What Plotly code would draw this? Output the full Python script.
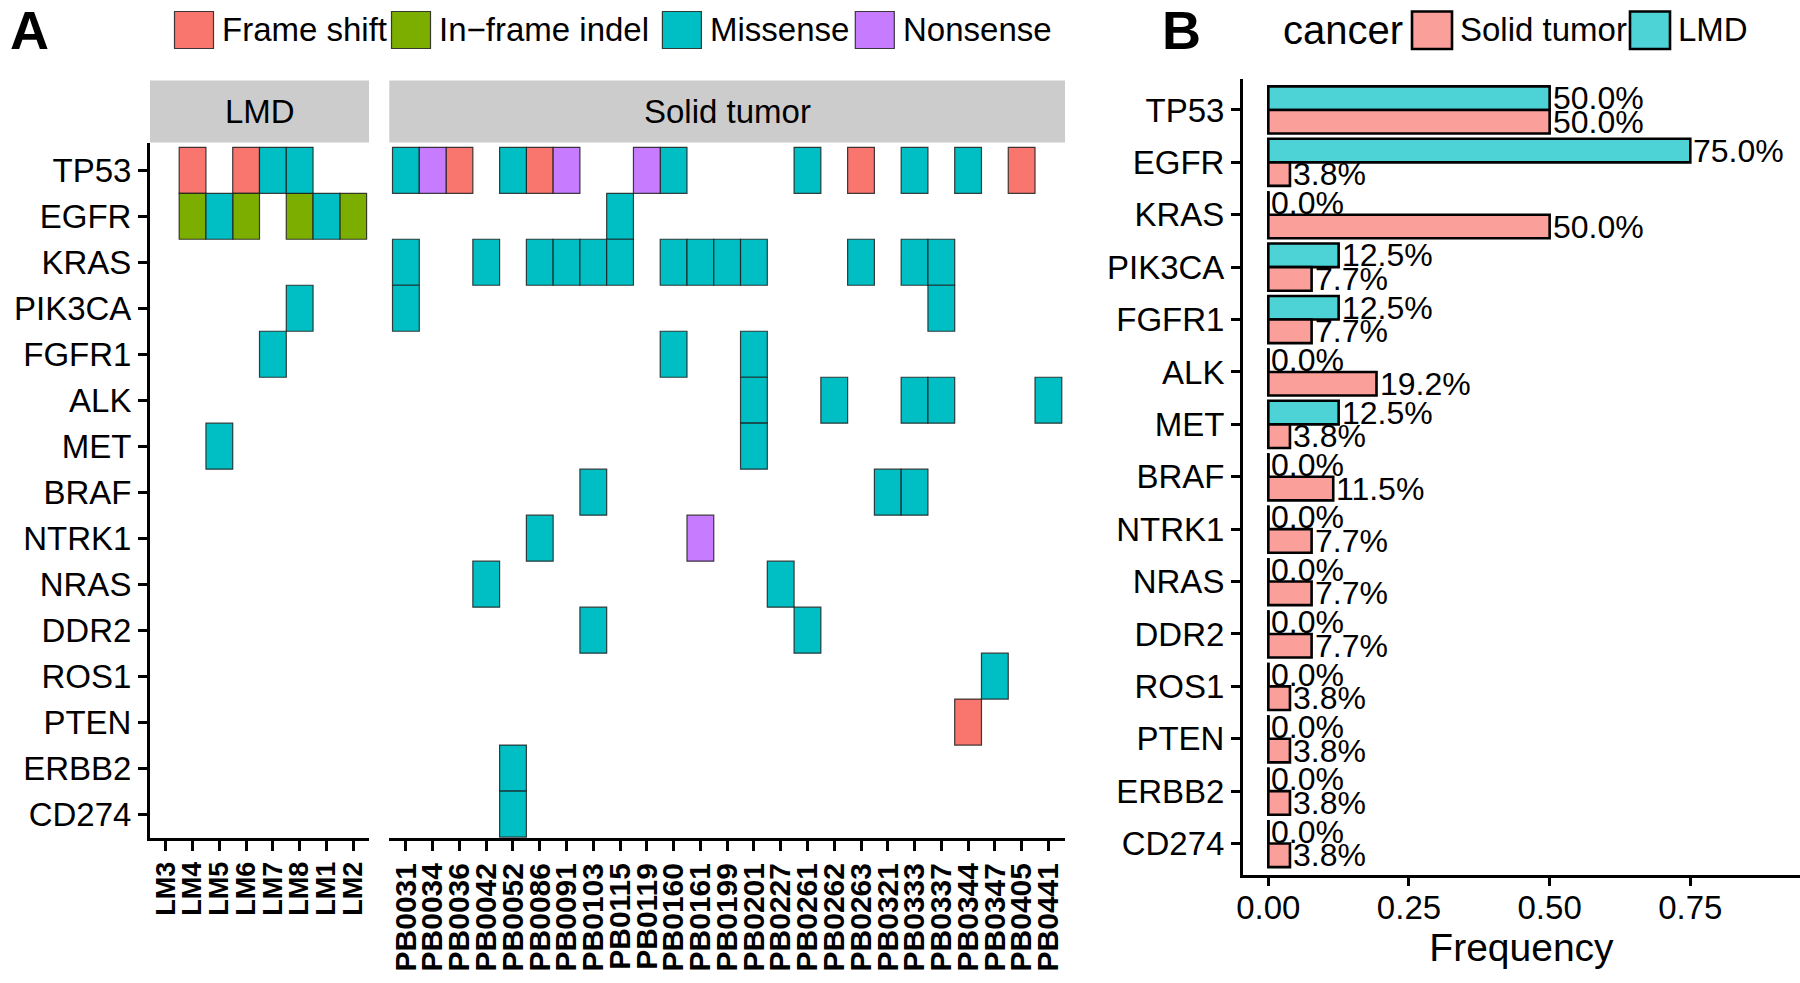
import plotly.graph_objects as go

# ---------------- data ----------------
genes = ["TP53", "EGFR", "KRAS", "PIK3CA", "FGFR1", "ALK", "MET", "BRAF",
         "NTRK1", "NRAS", "DDR2", "ROS1", "PTEN", "ERBB2", "CD274"]

lmd_samples = ["LM3", "LM4", "LM5", "LM6", "LM7", "LM8", "LM1", "LM2"]
solid_samples = ["PB0031", "PB0034", "PB0036", "PB0042", "PB0052", "PB0086", "PB0091",
                 "PB0103", "PB0115", "PB0119", "PB0160", "PB0161", "PB0199", "PB0201",
                 "PB0227", "PB0261", "PB0262", "PB0263", "PB0321", "PB0333", "PB0337",
                 "PB0344", "PB0347", "PB0405", "PB0441"]

mut_types = ["Frame shift", "In\u2212frame indel", "Missense", "Nonsense"]
mut_colors = ["#F8766D", "#7CAE00", "#00BFC4", "#C77CFF"]

# LMD mutations
lmd_gene = ["TP53", "TP53", "TP53", "TP53",
            "EGFR", "EGFR", "EGFR", "EGFR", "EGFR", "EGFR",
            "PIK3CA", "FGFR1", "MET"]
lmd_sample = ["LM4", "LM6", "LM7", "LM8",
              "LM4", "LM5", "LM6", "LM8", "LM1", "LM2",
              "LM8", "LM7", "LM5"]
lmd_type = ["Frame shift", "Frame shift", "Missense", "Missense",
            "In\u2212frame indel", "Missense", "In\u2212frame indel", "In\u2212frame indel",
            "Missense", "In\u2212frame indel",
            "Missense", "Missense", "Missense"]

# Solid tumor mutations
solid_gene = (["TP53"] * 13 + ["EGFR"] + ["KRAS"] * 13 + ["PIK3CA"] * 2 + ["FGFR1"] * 2
              + ["ALK"] * 5 + ["MET"] + ["BRAF"] * 3 + ["NTRK1"] * 2 + ["NRAS"] * 2
              + ["DDR2"] * 2 + ["ROS1"] + ["PTEN"] + ["ERBB2"] + ["CD274"])
solid_sample = ["PB0031", "PB0034", "PB0036", "PB0052", "PB0086", "PB0091", "PB0119",
                "PB0160", "PB0261", "PB0263", "PB0333", "PB0344", "PB0405",
                "PB0115",
                "PB0031", "PB0042", "PB0086", "PB0091", "PB0103", "PB0115", "PB0160",
                "PB0161", "PB0199", "PB0201", "PB0263", "PB0333", "PB0337",
                "PB0031", "PB0337",
                "PB0160", "PB0201",
                "PB0201", "PB0262", "PB0333", "PB0337", "PB0441",
                "PB0201",
                "PB0103", "PB0321", "PB0333",
                "PB0086", "PB0161",
                "PB0042", "PB0227",
                "PB0103", "PB0261",
                "PB0347",
                "PB0344",
                "PB0052",
                "PB0052"]
solid_type = (["Missense", "Nonsense", "Frame shift", "Missense", "Frame shift", "Nonsense",
               "Nonsense", "Missense", "Missense", "Frame shift", "Missense", "Missense",
               "Frame shift"]
              + ["Missense"] * 14 + ["Missense"] * 2 + ["Missense"] * 2 + ["Missense"] * 5
              + ["Missense"] + ["Missense"] * 3 + ["Missense", "Nonsense"] + ["Missense"] * 2
              + ["Missense"] * 2 + ["Missense"] + ["Frame shift"] + ["Missense"] + ["Missense"])

# Panel B frequencies
freq_lmd = [0.50, 0.75, 0.0, 0.125, 0.125, 0.0, 0.125, 0.0, 0.0, 0.0, 0.0, 0.0, 0.0, 0.0, 0.0]
freq_solid = [0.50, 0.03846, 0.50, 0.07692, 0.07692, 0.19231, 0.03846, 0.11538, 0.07692,
              0.07692, 0.07692, 0.03846, 0.03846, 0.03846, 0.03846]
cancer_groups = ["Solid tumor", "LMD"]
cancer_colors = ["#FA9F99", "#4DD2D6"]

# ---------------- figure ----------------
W, H = 1800, 983
FONT = "Liberation Sans, Arial, Helvetica, sans-serif"


def px(x):
    return x / W


def py(y):
    return 1 - y / H


fig = go.Figure()

# Panel A tiles
for t, col in zip(mut_types, mut_colors):
    for gl, sl, tl, samples, xa in [(lmd_gene, lmd_sample, lmd_type, lmd_samples, "x"),
                                    (solid_gene, solid_sample, solid_type, solid_samples, "x2")]:
        xs = [samples.index(s) for s, tt in zip(sl, tl) if tt == t]
        bases = [genes.index(g) - 0.5 for g, tt in zip(gl, tl) if tt == t]
        if not xs:
            continue
        fig.add_trace(go.Bar(
            x=xs, y=[1] * len(xs), base=bases, width=1,
            marker=dict(color=col, line=dict(color="rgba(30,30,30,0.85)", width=1.2)),
            xaxis=xa, yaxis="y", showlegend=False, name=t, hoverinfo="skip"))

annotations = []

# Panel B bars
gidx = list(range(len(genes)))
for name, vals, col, off in [("LMD", freq_lmd, cancer_colors[1], -0.45),
                             ("Solid tumor", freq_solid, cancer_colors[0], 0.0)]:
    fig.add_trace(go.Bar(
        x=vals, y=gidx, orientation="h", width=0.45, offset=off,
        marker=dict(color=col, line=dict(color="black", width=2.6)),
        xaxis="x3", yaxis="y3", showlegend=False, name=name, hoverinfo="skip"))
    # zero-valued bars drawn as outline only
    zx, zy = [], []
    for i, v in enumerate(vals):
        if v == 0:
            zx += [0, 0, None]
            zy += [i + off, i + off + 0.45, None]
    if zx:
        fig.add_trace(go.Scatter(x=zx, y=zy, mode="lines", line=dict(color="black", width=2.6),
                                 xaxis="x3", yaxis="y3", showlegend=False, hoverinfo="skip"))
    for i, v in enumerate(vals):
        annotations.append(dict(xref="x3", yref="y3", x=v, y=i + off + 0.225,
                                text="%.1f%%" % (v * 100), showarrow=False,
                                xanchor="left", yanchor="middle", xshift=2, borderpad=0,
                                font=dict(size=32, color="black")))

axis_common = dict(showline=True, linecolor="black", linewidth=3, ticks="outside",
                   tickcolor="black", tickwidth=2.5, showgrid=False, zeroline=False,
                   fixedrange=True, automargin=False)

fig.update_layout(
    width=W, height=H, margin=dict(l=0, r=0, t=0, b=0, pad=0, autoexpand=False),
    paper_bgcolor="white", plot_bgcolor="white",
    barmode="overlay", showlegend=False,
    font=dict(family=FONT, color="black"),
    xaxis=dict(domain=[px(150), px(369)], range=[-0.59, 7.59], anchor="y",
               tickvals=list(range(len(lmd_samples))), ticktext=lmd_samples,
               tickangle=-90, ticklen=10,
               tickfont=dict(size=27, weight="bold", color="black"), **axis_common),
    xaxis2=dict(domain=[px(389.3), px(1065)], range=[-0.62, 24.62], anchor="y",
                tickvals=list(range(len(solid_samples))), ticktext=solid_samples,
                tickangle=-90, ticklen=10,
                tickfont=dict(size=30, weight="bold", color="black"), **axis_common),
    yaxis=dict(domain=[py(838), py(142.7)], range=[14.52, -0.6], anchor="x",
               tickvals=gidx, ticktext=genes, ticklen=9,
               tickfont=dict(size=33, color="black"), **axis_common),
    xaxis3=dict(domain=[px(1243), 1.0], range=[-0.045, 0.945], anchor="y3",
                tickvals=[0, 0.25, 0.5, 0.75], ticktext=["0.00", "0.25", "0.50", "0.75"],
                ticklen=8, tickfont=dict(size=33, color="black"), ticklabelstandoff=-7,
                title=dict(text="Frequency", font=dict(size=39, color="black"), standoff=10),
                **axis_common),
    yaxis3=dict(domain=[py(875), py(78.5)], range=[14.6, -0.6], anchor="x3",
                tickvals=gidx, ticktext=genes, ticklen=9,
                tickfont=dict(size=33, color="black"), **axis_common),
)

shapes = []

# facet strips
for xr, label in [("x domain", "LMD"), ("x2 domain", "Solid tumor")]:
    shapes.append(dict(type="rect", xref=xr, yref="paper", x0=0, x1=1,
                       y0=py(142.4), y1=py(80.4), fillcolor="#CCCCCC", line=dict(width=0),
                       layer="below"))
    annotations.append(dict(xref=xr, yref="paper", x=0.5, y=py(111.4), text=label,
                            showarrow=False, font=dict(size=33, color="black"),
                            xanchor="center", yanchor="middle"))

# panel letters
annotations.append(dict(xref="paper", yref="paper", x=px(29), y=py(30), text="<b>A</b>",
                        showarrow=False, font=dict(size=54, color="black"),
                        xanchor="center", yanchor="middle"))
annotations.append(dict(xref="paper", yref="paper", x=px(1181), y=py(30), text="<b>B</b>",
                        showarrow=False, font=dict(size=54, color="black"),
                        xanchor="center", yanchor="middle"))

# legend A (mutation types)
legA_box_x = [174.5, 391.5, 662.4, 855.3]
for t, col, bx in zip(mut_types, mut_colors, legA_box_x):
    shapes.append(dict(type="rect", xref="paper", yref="paper", x0=px(bx), x1=px(bx + 39),
                       y0=py(48.5), y1=py(11.5), fillcolor=col,
                       line=dict(color="rgba(30,30,30,0.85)", width=1.2)))
    annotations.append(dict(xref="paper", yref="paper", x=px(bx + 45.5), y=py(30), text=t,
                            showarrow=False, font=dict(size=33, color="black"),
                            xanchor="left", yanchor="middle"))

# legend B (cancer)
annotations.append(dict(xref="paper", yref="paper", x=px(1281), y=py(30), text="cancer",
                        showarrow=False, font=dict(size=40, color="black"),
                        xanchor="left", yanchor="middle"))
legB_box_x = [1412, 1630]
for g, col, bx in zip(cancer_groups, cancer_colors, legB_box_x):
    shapes.append(dict(type="rect", xref="paper", yref="paper", x0=px(bx), x1=px(bx + 40),
                       y0=py(49), y1=py(11.5), fillcolor=col,
                       line=dict(color="black", width=2.6)))
    annotations.append(dict(xref="paper", yref="paper", x=px(bx + 46), y=py(30), text=g,
                            showarrow=False, font=dict(size=33, color="black"),
                            xanchor="left", yanchor="middle"))

fig.update_layout(shapes=shapes, annotations=annotations)

fig.write_html("out.html", config={"displayModeBar": False},
               post_script="document.body.style.margin='0';document.body.style.overflow='hidden';")
